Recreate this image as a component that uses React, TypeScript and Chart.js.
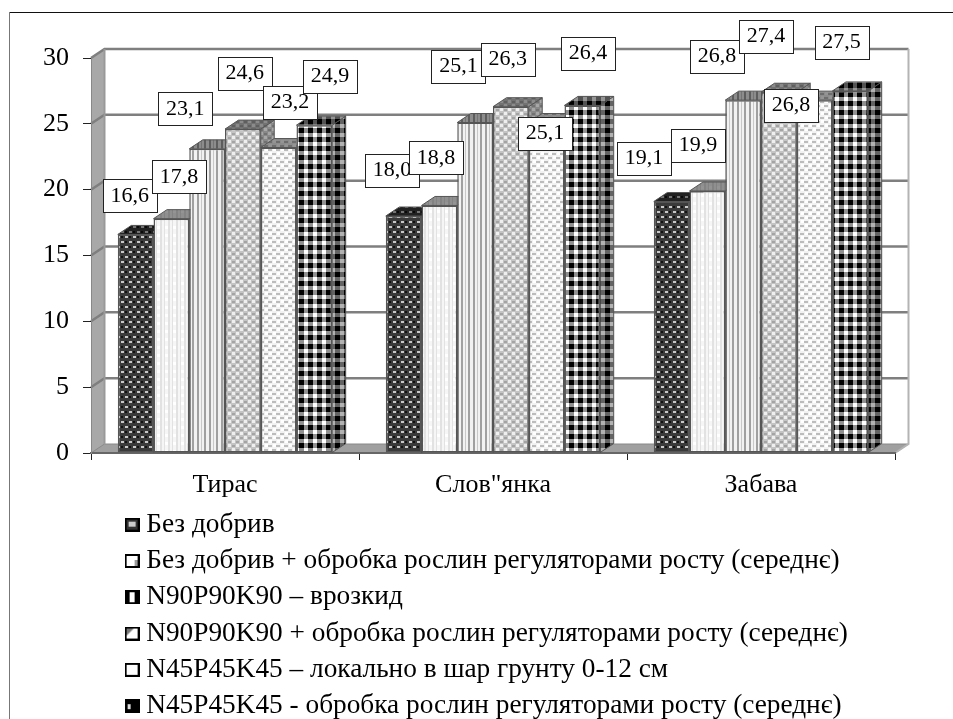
import React, { useEffect, useRef } from "react";
import { Chart, registerables } from "chart.js";

Chart.register(...registerables);

const categories = ["Тирас", 'Слов"янка', "Забава"];
const seriesNames = [
  "Без добрив",
  "Без добрив + обробка рослин регуляторами росту (середнє)",
  "N90P90K90 – врозкид",
  "N90P90K90 + обробка рослин регуляторами росту (середнє)",
  "N45P45K45 – локально в шар грунту 0-12 см",
  "N45P45K45 - обробка рослин регуляторами росту (середнє)",
];
const bezDobryv = [16.6, 18.0, 19.1];
const bezDobryvReg = [17.8, 18.8, 19.9];
const n90Vrozkyd = [23.1, 25.1, 26.8];
const n90Reg = [24.6, 26.3, 27.4];
const n45Lokalno = [23.2, 25.1, 26.8];
const n45Reg = [24.9, 26.4, 27.5];
const seriesValues = [bezDobryv, bezDobryvReg, n90Vrozkyd, n90Reg, n45Lokalno, n45Reg];

// Manual nudges of the value boxes relative to the top of their bars (series x category)
const labelNudgeX = [
  [-6, -11.7, -27.7],
  [7.6, -3.4, -9.4],
  [-22, -16.7, -26.2],
  [2, -3, -12.9],
  [11.4, -1.6, -23.6],
  [15.7, 5.7, -8.8],
];
const labelNudgeY = [
  [-38.5, -46, -43],
  [-41.8, -47.7, -45.7],
  [-40, -56, -43.6],
  [-55.5, -47.7, -55.7],
  [-45, 11, 5.4],
  [-48.5, -52, -48.4],
];

const FONT = "'Liberation Serif', 'Times New Roman', serif";
const DX = 13.5;
const DY = 9;

type Painter = (c: CanvasRenderingContext2D) => void;

function tile(w: number, h: number, paint: Painter): HTMLCanvasElement {
  const cv = document.createElement("canvas");
  cv.width = w;
  cv.height = h;
  paint(cv.getContext("2d") as CanvasRenderingContext2D);
  return cv;
}

const tilePainters: [number, number, Painter][] = [
  [8, 10, (c) => {
    c.fillStyle = "#3a3a3a";
    c.fillRect(0, 0, 8, 10);
    c.fillStyle = "#c8c8c8";
    c.fillRect(1, 1, 3, 2);
    c.fillRect(5, 6, 3, 2);
    c.fillStyle = "#111";
    c.fillRect(5, 1, 2, 2);
    c.fillRect(1, 6, 2, 2);
  }],
  [8, 8, (c) => {
    c.fillStyle = "#f6f6f6";
    c.fillRect(0, 0, 8, 8);
    c.fillStyle = "#e2e2e2";
    c.fillRect(0, 0, 2, 8);
    c.fillRect(4, 0, 1, 8);
    c.fillStyle = "#fff";
    c.fillRect(5, 2, 3, 3);
  }],
  [12, 4, (c) => {
    c.fillStyle = "#f2f2f2";
    c.fillRect(0, 0, 12, 4);
    c.fillStyle = "#a0a0a0";
    c.fillRect(0, 0, 2, 4);
    c.fillRect(5, 0, 2, 4);
    c.fillStyle = "#c8c8c8";
    c.fillRect(9, 0, 1, 4);
  }],
  [8, 8, (c) => {
    c.fillStyle = "#c4c4c4";
    c.fillRect(0, 0, 8, 8);
    c.fillStyle = "#efefef";
    c.fillRect(0, 0, 3, 3);
    c.fillRect(4, 4, 3, 3);
    c.fillStyle = "#a4a4a4";
    c.fillRect(4, 1, 3, 2);
    c.fillRect(0, 5, 3, 2);
  }],
  [8, 8, (c) => {
    c.fillStyle = "#f2f2f2";
    c.fillRect(0, 0, 8, 8);
    c.fillStyle = "#bcbcbc";
    c.fillRect(0, 1, 4, 2);
    c.fillRect(4, 5, 4, 2);
    c.fillStyle = "#fff";
    c.fillRect(5, 0, 3, 3);
    c.fillRect(1, 4, 3, 3);
  }],
  [9, 9, (c) => {
    c.fillStyle = "#fff";
    c.fillRect(0, 0, 9, 9);
    c.fillStyle = "#8f8f8f";
    c.fillRect(0, 2, 9, 5);
    c.fillRect(2, 0, 5, 9);
    c.fillStyle = "#000";
    c.fillRect(2, 2, 5, 5);
  }],
];

function swatch(i: number): HTMLCanvasElement {
  return tile(15, 14, (c) => {
    c.fillStyle = "#fff";
    c.fillRect(0, 0, 15, 14);
    c.strokeStyle = "#000";
    c.lineWidth = 2;
    c.strokeRect(1, 1, 13, 12);
    const fills = ["#333", "#000", "#000", "#000", "#000", "#000"];
    c.fillStyle = fills[i];
    if (i === 0) {
      c.fillRect(2, 2, 11, 10);
      c.fillStyle = "#ccc";
      c.fillRect(4, 4, 7, 5);
    } else if (i === 2) {
      c.fillRect(2, 2, 3, 10);
      c.fillRect(10, 2, 3, 10);
    } else if (i === 3) {
      c.fillStyle = "#777";
      c.beginPath();
      c.moveTo(2, 2);
      c.lineTo(9, 2);
      c.lineTo(2, 9);
      c.fill();
    } else if (i === 5) {
      c.fillRect(2, 2, 11, 10);
      c.fillStyle = "#ddd";
      c.fillRect(3, 5, 3, 5);
    } else if (i === 1) {
      c.fillStyle = "#999";
      c.fillRect(10, 6, 3, 6);
    }
  });
}

function poly(ctx: CanvasRenderingContext2D, pts: number[][]) {
  ctx.beginPath();
  pts.forEach((p, i) => (i === 0 ? ctx.moveTo(p[0], p[1]) : ctx.lineTo(p[0], p[1])));
  ctx.closePath();
}

const wallPlugin = {
  id: "wall3d",
  beforeDraw(chart: any) {
    const { ctx, chartArea: a, scales } = chart;
    const { left: l, right: r, bottom: b, top: t } = a;
    ctx.save();
    ctx.fillStyle = "#fff";
    ctx.fillRect(0, 0, chart.width, chart.height);
    // outer frame
    ctx.fillStyle = "#111";
    ctx.fillRect(9, 12, chart.width - 9, 1);
    ctx.fillStyle = "#777";
    ctx.fillRect(9, 12, 1, chart.height - 12);
    // left wall
    ctx.fillStyle = "#a8a8a8";
    poly(ctx, [[l + 1, b], [l + DX, b - DY], [l + DX, t - DY], [l + 1, t]]);
    ctx.fill();
    // floor
    ctx.fillStyle = "#a0a0a0";
    poly(ctx, [[l, b], [l + DX, b - DY], [r + DX, b - DY], [r, b]]);
    ctx.fill();
    ctx.strokeStyle = "#888";
    ctx.lineWidth = 1;
    ctx.stroke();
    // back grid
    ctx.strokeStyle = "#7f7f7f";
    ctx.lineWidth = 2.5;
    for (const tick of scales.y.ticks) {
      const y = scales.y.getPixelForValue(tick.value);
      if (tick.value === 0) continue;
      ctx.beginPath();
      ctx.moveTo(l, y);
      ctx.lineTo(l + DX, y - DY);
      ctx.lineTo(r + DX, y - DY);
      ctx.stroke();
    }
    // right edge of the back wall
    ctx.strokeStyle = "#b4b4b4";
    ctx.lineWidth = 2;
    ctx.beginPath();
    ctx.moveTo(r + DX, t - DY);
    ctx.lineTo(r + DX, b - DY);
    ctx.lineTo(r, b);
    ctx.stroke();
    ctx.strokeStyle = "#999";
    ctx.beginPath();
    ctx.moveTo(l + DX, t - DY);
    ctx.lineTo(l + DX, b - DY);
    ctx.stroke();
    ctx.restore();
  },
  beforeDatasetsDraw(chart: any) {
    const { ctx } = chart;
    ctx.save();
    ctx.strokeStyle = "#555";
    ctx.lineWidth = 1;
    categories.forEach((_, j) => {
      chart.data.datasets.forEach((ds: any, i: number) => {
        const el = chart.getDatasetMeta(i).data[j];
        const x0 = el.x - el.width / 2;
        const x1 = el.x + el.width / 2;
        const top = el.y;
        const base = el.base;
        poly(ctx, [[x1, top], [x1 + DX, top - DY], [x1 + DX, base - DY], [x1, base]]);
        ctx.fillStyle = ds.backgroundColor;
        ctx.fill();
        ctx.fillStyle = "rgba(0,0,0,0.3)";
        ctx.fill();
        ctx.stroke();
        poly(ctx, [[x0, top], [x0 + DX, top - DY], [x1 + DX, top - DY], [x1, top]]);
        ctx.fillStyle = ds.backgroundColor;
        ctx.fill();
        ctx.fillStyle = "rgba(0,0,0,0.42)";
        ctx.fill();
        ctx.stroke();
      });
    });
    ctx.restore();
  },
  afterDatasetsDraw(chart: any) {
    const { ctx } = chart;
    ctx.save();
    ctx.font = `22px ${FONT}`;
    ctx.textAlign = "center";
    ctx.textBaseline = "middle";
    chart.data.datasets.forEach((ds: any, i: number) => {
      ds.data.forEach((v: number, j: number) => {
        const el = chart.getDatasetMeta(i).data[j];
        const cx = el.x + labelNudgeX[i][j];
        const cy = el.y + labelNudgeY[i][j];
        const bx = Math.round(cx - 27) + 0.5;
        const by = Math.round(cy - 16.5) + 0.5;
        ctx.fillStyle = "#fff";
        ctx.fillRect(bx, by, 54, 33);
        ctx.strokeStyle = "#222";
        ctx.lineWidth = 1;
        ctx.strokeRect(bx, by, 54, 33);
        ctx.fillStyle = "#000";
        ctx.fillText(v.toFixed(1).replace(".", ","), cx, cy);
      });
    });
    ctx.restore();
  },
  afterLayout(chart: any) {
    const lg = chart.legend;
    if (!lg) return;
    lg.left = 122.6;
    lg.right = chart.width;
    lg.top = 502;
    lg.bottom = chart.height + 80;
    lg.width = lg.right - lg.left;
    lg.height = lg.bottom - lg.top;
  },
};

export default function App() {
  const ref = useRef<HTMLCanvasElement | null>(null);
  useEffect(() => {
    const canvas = ref.current as HTMLCanvasElement;
    const ctx = canvas.getContext("2d") as CanvasRenderingContext2D;
    const tiles = tilePainters.map(([w, h, p]) => tile(w, h, p));
    const datasets = seriesValues.map((data, i) => ({
      label: seriesNames[i],
      data,
      backgroundColor: ctx.createPattern(tiles[i], "repeat") as any,
      borderColor: "#555",
      borderWidth: 1.5,
      borderSkipped: false,
      categoryPercentage: 0.8,
      barPercentage: 1,
    }));
    const font = { family: FONT, size: 26 };
    const chart = new Chart(canvas, {
      type: "bar",
      data: { labels: categories, datasets },
      plugins: [wallPlugin],
      options: {
        responsive: false,
        animation: false,
        events: [],
        layout: { padding: { top: 58, right: 58, left: 0, bottom: 0 } },
        plugins: {
          title: { display: false },
          tooltip: { enabled: false },
          legend: {
            position: "chartArea",
            align: "start",
            labels: {
              color: "#000",
              font: { family: FONT, size: 27.3 },
              usePointStyle: true,
              boxWidth: 1,
              padding: 9,
              generateLabels: (c: any) =>
                c.data.datasets.map((ds: any, i: number) => ({
                  text: ds.label,
                  fontColor: "#000",
                  pointStyle: swatch(i),
                  datasetIndex: i,
                  hidden: false,
                  lineWidth: 0,
                })),
            },
          },
        },
        scales: {
          x: {
            afterFit: (s: any) => {
              s.height = 266;
            },
            grid: { drawOnChartArea: false, drawTicks: true, tickLength: 7, tickColor: "#222", tickWidth: 1 },
            border: { color: "#666", width: 2 },
            ticks: { color: "#000", font, padding: 10 },
          },
          y: {
            min: 0,
            max: 30,
            afterFit: (s: any) => {
              s.width = 91;
            },
            grid: { drawOnChartArea: false, drawTicks: true, tickLength: 8, tickColor: "#222", tickWidth: 1 },
            border: { color: "#888", width: 1 },
            ticks: { stepSize: 5, color: "#000", font, padding: 14 },
          },
        },
      } as any,
    });
    return () => chart.destroy();
  }, []);
  return (
    <div style={{ position: "absolute", left: 0, top: 0, width: 953, height: 719, overflow: "hidden", background: "#fff" }}>
      <canvas ref={ref} width={953} height={719} style={{ display: "block", width: 953, height: 719, filter: "blur(0.45px)" }} />
    </div>
  );
}
